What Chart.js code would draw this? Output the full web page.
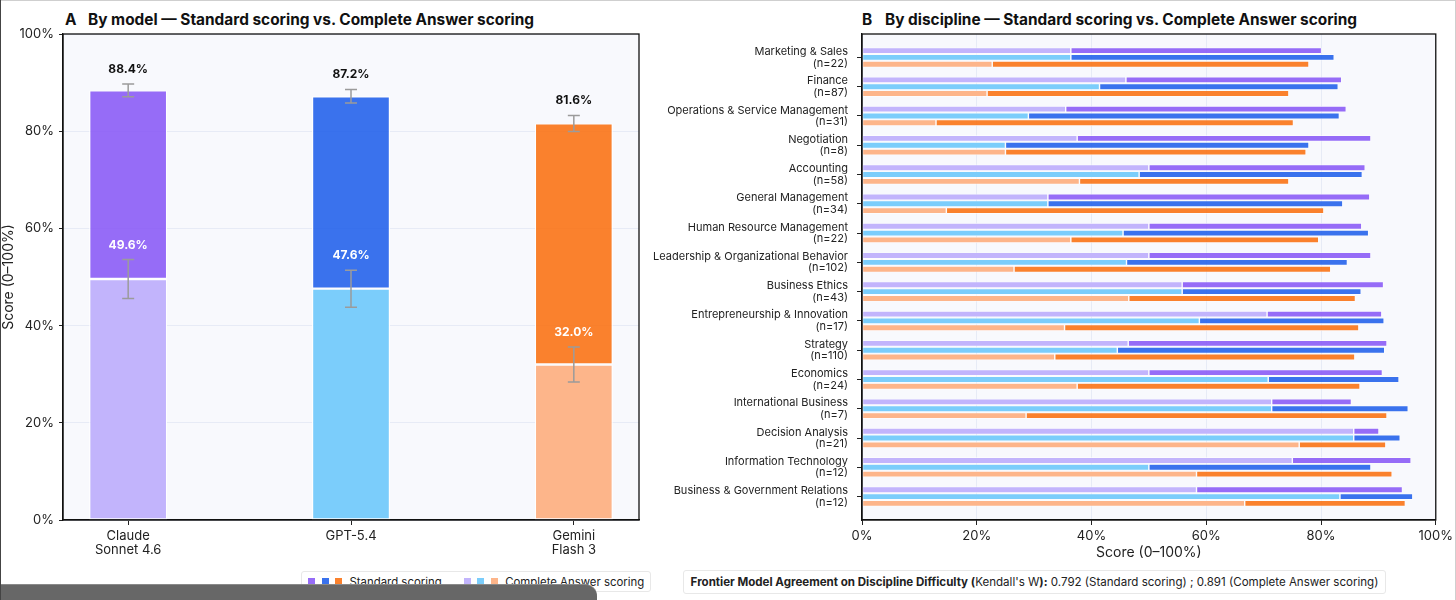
<!DOCTYPE html>
<html><head><meta charset="utf-8">
<script src="https://cdn.jsdelivr.net/npm/chart.js@4.4.1/dist/chart.umd.min.js"></script>
<style>
body{margin:0;background:#fff;font-family:Inter,"Noto Sans",sans-serif;}
#wrap{position:relative;width:1456px;height:600px;overflow:hidden;background:#fff;}
.title{position:absolute;top:10px;font-weight:700;font-size:15.4px;color:#111;white-space:nowrap;}
.title .p{display:inline-block;width:23px;}
.box{position:absolute;background:#fff;border:1px solid #e8e8e8;border-radius:3px;color:#222;white-space:nowrap;display:flex;align-items:center;box-sizing:border-box;}
.sq{display:inline-block;width:7px;height:7px;}
.line{position:absolute;}
</style></head>
<body><div id="wrap">
<div class="title" style="left:65px;"><span class="p">A</span>By model — Standard scoring vs. Complete Answer scoring</div>
<div class="title" style="left:862px;"><span class="p">B</span>By discipline — Standard scoring vs. Complete Answer scoring</div>
<canvas id="ca" width="650" height="565" style="position:absolute;left:0;top:0;width:650px;height:565px;"></canvas>
<canvas id="cb" width="806" height="565" style="position:absolute;left:650px;top:0;width:806px;height:565px;"></canvas>
<div class="box" id="legend" style="left:301px;top:571px;width:350px;height:21px;padding-left:6px;font-size:11.4px;"></div>
<div class="box" style="left:683px;top:570px;width:703px;height:24px;justify-content:center;font-size:11.55px;">
<span><b>Frontier Model Agreement on Discipline Difficulty (</b>Kendall's W<b>):</b> 0.792 (Standard scoring) ; 0.891 (Complete Answer scoring)</span></div>
<div class="line" style="left:0;top:584px;width:597px;height:16px;background:#676767;border-top-right-radius:12px;border-top:1px solid #8a8a8a;"></div>
<div class="line" style="left:0;top:0;width:1456px;height:1px;background:#cfcfcf;"></div>
<div class="line" style="left:0;top:0;width:1px;height:600px;background:#444;"></div>
<div class="line" style="left:1455px;top:0;width:1px;height:600px;background:#cfcfcf;"></div>
</div>
<script>
// ---------- data ----------
const modelNames = ["Claude Sonnet 4.6", "GPT-5.4", "Gemini Flash 3"];
const modelTickLabels = [["Claude", "Sonnet 4.6"], ["GPT-5.4"], ["Gemini", "Flash 3"]];
const modelStandard = [88.4, 87.2, 81.6];
const modelComplete = [49.6, 47.6, 32.0];
const modelStandardErr = [1.3, 1.4, 1.65];
const modelCompleteErr = [4.0, 3.8, 3.6];

const disciplines = ["Marketing & Sales", "Finance", "Operations & Service Management", "Negotiation",
  "Accounting", "General Management", "Human Resource Management", "Leadership & Organizational Behavior",
  "Business Ethics", "Entrepreneurship & Innovation", "Strategy", "Economics", "International Business",
  "Decision Analysis", "Information Technology", "Business & Government Relations"];
const disciplineN = [22, 87, 31, 8, 58, 34, 22, 102, 43, 17, 110, 24, 7, 21, 12, 12];

const claudeStandard = [80.1, 83.6, 84.4, 88.7, 87.7, 88.5, 87.1, 88.7, 90.9, 90.6, 91.5, 90.7, 85.3, 90.1, 95.7, 94.2];
const claudeComplete = [36.4, 46.0, 35.5, 37.5, 50.0, 32.4, 50.0, 50.0, 55.8, 70.6, 46.4, 50.0, 71.4, 85.7, 75.0, 58.3];
const gptStandard    = [82.3, 83.0, 83.2, 77.9, 87.2, 83.8, 88.3, 84.6, 87.0, 91.0, 91.1, 93.6, 95.2, 93.8, 88.7, 96.0];
const gptComplete    = [36.4, 41.4, 29.0, 25.0, 48.3, 32.4, 45.5, 46.1, 55.8, 58.8, 44.5, 70.8, 71.4, 85.7, 50.0, 83.3];
const geminiStandard = [77.9, 74.4, 75.2, 77.4, 74.4, 80.5, 79.6, 81.7, 86.0, 86.6, 85.9, 86.8, 91.5, 91.3, 92.4, 94.7];
const geminiComplete = [22.7, 21.8, 12.9, 25.0, 37.9, 14.7, 36.4, 26.5, 46.5, 35.3, 33.6, 37.5, 28.6, 76.2, 58.3, 66.7];

const xTicksPct = [0, 20, 40, 60, 80, 100];

// ---------- styles ----------
const darkColors  = ["rgba(139,92,246,0.9)", "rgba(37,99,235,0.9)", "rgba(249,115,22,0.9)"];
const lightColors = ["#c2b4fc", "#7bcdfb", "#fdb58a"];
const legendLabels = ["Standard scoring", "Complete Answer scoring"];

Chart.defaults.font.family = "Inter, 'Noto Sans', sans-serif";
Chart.defaults.color = "#222";
Chart.defaults.animation = false;

// legend HTML
(function(){
  const lg = document.getElementById('legend');
  let h = '';
  darkColors.forEach(c => h += `<span class="sq" style="background:${c};margin-right:6.5px"></span>`);
  h += `<span style="margin-right:22px;margin-left:1px">${legendLabels[0]}</span>`;
  lightColors.forEach(c => h += `<span class="sq" style="background:${c};margin-right:6.5px"></span>`);
  h += `<span style="margin-left:1px">${legendLabels[1]}</span>`;
  lg.innerHTML = h;
})();

const frameBg = {
  id: 'frameBg',
  beforeDraw(chart) {
    const {ctx, chartArea: a} = chart;
    ctx.save(); ctx.fillStyle = '#f8f9fd';
    ctx.fillRect(a.left, a.top, a.right - a.left, a.bottom - a.top); ctx.restore();
  },
  afterDraw(chart) {
    const {ctx, chartArea: a} = chart;
    ctx.save(); ctx.strokeStyle = '#111'; ctx.lineWidth = 1.3;
    ctx.strokeRect(a.left, a.top, a.right - a.left, a.bottom - a.top); ctx.restore();
  }
};

const errAndLabels = {
  id: 'errAndLabels',
  afterDatasetsDraw(chart) {
    const {ctx, scales: {x, y}} = chart;
    ctx.save();
    const drawErr = (i, v, e) => {
      const px = x.getPixelForValue(i), y1 = y.getPixelForValue(v - e), y2 = y.getPixelForValue(v + e);
      ctx.strokeStyle = '#9b9b9b'; ctx.lineWidth = 1.5;
      ctx.beginPath(); ctx.moveTo(px, y1); ctx.lineTo(px, y2);
      ctx.moveTo(px - 6, y1); ctx.lineTo(px + 6, y1);
      ctx.moveTo(px - 6, y2); ctx.lineTo(px + 6, y2); ctx.stroke();
    };
    modelNames.forEach((n, i) => {
      drawErr(i, modelStandard[i], modelStandardErr[i]);
      drawErr(i, modelComplete[i], modelCompleteErr[i]);
    });
    ctx.font = "700 12px Inter, 'Noto Sans', sans-serif";
    ctx.textAlign = 'center'; ctx.textBaseline = 'middle';
    modelNames.forEach((n, i) => {
      const px = x.getPixelForValue(i);
      ctx.fillStyle = '#111';
      ctx.fillText(modelStandard[i].toFixed(1) + '%', px, y.getPixelForValue(modelStandard[i] + modelStandardErr[i] + 3));
      ctx.fillStyle = '#fff';
      ctx.fillText(modelComplete[i].toFixed(1) + '%', px, y.getPixelForValue(modelComplete[i] + modelCompleteErr[i] + 3));
    });
    ctx.restore();
  }
};

// ---------- Panel A ----------
new Chart(document.getElementById('ca'), {
  type: 'bar',
  data: {
    datasets: [
      { label: 'Complete Answer scoring', data: modelComplete.map((v, i) => ({x: i, y: v})),
        backgroundColor: lightColors, borderColor: 'rgba(255,255,255,0.95)', borderWidth: 1.2, borderSkipped: false, stack: 's' },
      { label: 'Standard scoring', data: modelStandard.map((v, i) => ({x: i, y: v - modelComplete[i]})),
        backgroundColor: darkColors, borderColor: 'rgba(255,255,255,0.95)', borderWidth: 1.2, borderSkipped: false, stack: 's' }
    ]
  },
  options: {
    responsive: false,
    layout: { padding: { top: 34, right: 11, left: 0, bottom: 0 } },
    categoryPercentage: 1, barPercentage: 0.35,
    plugins: { legend: { display: false }, tooltip: { enabled: false } },
    scales: {
      x: {
        type: 'linear', min: -0.2925, max: 2.2925, stacked: true, offset: false,
        afterBuildTicks: s => { s.ticks = modelNames.map((_, i) => ({value: i})); },
        afterFit: s => { s.height = 45; },
        ticks: { callback: v => modelTickLabels[v], autoSkip: false, maxRotation: 0, padding: 4,
                 font: { size: 13, lineHeight: 1.1 }, color: '#222' },
        grid: { offset: false, drawOnChartArea: false, drawTicks: true, tickLength: 5, tickColor: '#222' },
        border: { display: true, color: '#111', width: 1.3 }
      },
      y: {
        min: 0, max: 100, stacked: true,
        afterFit: s => { s.width = 63; },
        ticks: { stepSize: 20, callback: v => v + '%', font: { size: 13 }, padding: 5, color: '#222' },
        grid: { color: '#e7ebf6', lineWidth: 1, tickLength: 4, tickColor: '#222' },
        border: { display: true, color: '#111', width: 1.3 },
        title: { display: true, text: 'Score (0–100%)', font: { size: 14 }, padding: { top: 0, bottom: 0 }, color: '#222' }
      }
    }
  },
  plugins: [frameBg, errAndLabels]
});

// ---------- Panel B ----------
const bModels = [
  { key: 'claude', std: claudeStandard, comp: claudeComplete },
  { key: 'gpt', std: gptStandard, comp: gptComplete },
  { key: 'gemini', std: geminiStandard, comp: geminiComplete }
];
const bDatasets = [];
bModels.forEach((m, k) => {
  bDatasets.push({ label: modelNames[k] + ' complete', data: m.comp.map((c, i) => ({x: c, y: i})),
    backgroundColor: lightColors[k], borderColor: 'rgba(255,255,255,0.95)', borderWidth: 0.7, borderSkipped: false, stack: m.key });
  bDatasets.push({ label: modelNames[k] + ' standard', data: m.std.map((s, i) => ({x: s - m.comp[i], y: i})),
    backgroundColor: darkColors[k], borderColor: 'rgba(255,255,255,0.95)', borderWidth: 0.7, borderSkipped: false, stack: m.key });
});

new Chart(document.getElementById('cb'), {
  type: 'bar',
  data: { datasets: bDatasets },
  options: {
    responsive: false,
    indexAxis: 'y',
    layout: { padding: { top: 34, right: 19, left: 0, bottom: 0 } },
    categoryPercentage: 0.70, barPercentage: 0.92,
    plugins: { legend: { display: false }, tooltip: { enabled: false } },
    scales: {
      x: {
        min: 0, max: 100, stacked: true,
        afterBuildTicks: s => { s.ticks = xTicksPct.map(v => ({value: v})); },
        afterFit: s => { s.height = 45; },
        ticks: { callback: v => v + '%', font: { size: 13 }, padding: 3, color: '#222', maxRotation: 0 },
        grid: { color: '#e7ebf6', lineWidth: 1, tickLength: 5, tickColor: '#222' },
        border: { display: true, color: '#111', width: 1.3 },
        title: { display: true, text: 'Score (0–100%)', font: { size: 14 }, padding: { top: 0, bottom: 4 }, color: '#222' }
      },
      y: {
        type: 'linear', min: -0.8, max: 15.8, reverse: true, offset: false,
        afterBuildTicks: s => { s.ticks = disciplines.map((_, i) => ({value: i})); },
        afterFit: s => { s.width = 212; },
        ticks: { callback: v => [disciplines[v], '(n=' + disciplineN[v] + ')'], autoSkip: false,
                 font: { size: 11, lineHeight: 1.05 }, padding: 9, color: '#222' },
        grid: { offset: false, drawOnChartArea: false, drawTicks: true, tickLength: 5, tickColor: '#222' },
        border: { display: true, color: '#111', width: 1.3 }
      }
    }
  },
  plugins: [frameBg]
});
</script>
</body></html>
